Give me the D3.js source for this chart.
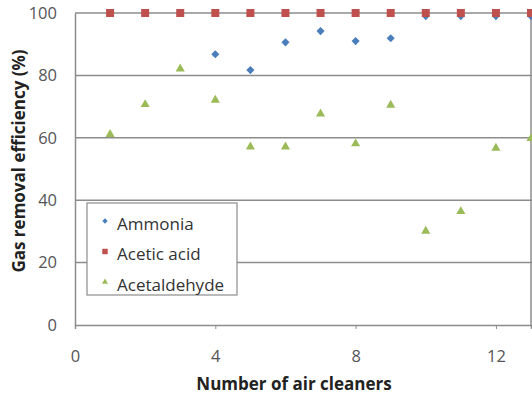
<!DOCTYPE html>
<html>
<head>
<meta charset="utf-8">
<script src="https://cdn.jsdelivr.net/npm/d3@7"></script>
<style>
  body { margin: 0; background: #fff; }
  text { font-family: "Open Sans", "Noto Sans", sans-serif; }
</style>
</head>
<body>
<div id="chart"></div>
<script>
const cleaners = [1, 2, 3, 4, 5, 6, 7, 8, 9, 10, 11, 12, 13];
const ammonia = [100, 100, 100, 86.8, 81.7, 90.6, 94.2, 91.0, 91.9, 99.0, 99.0, 99.0, 99.0];
const aceticAcid = [100, 100, 100, 100, 100, 100, 100, 100, 100, 100, 100, 100, 100];
const acetaldehyde = [61.1, 70.7, 82.1, 72.1, 57.1, 57.1, 67.7, 58.1, 70.5, 30.1, 36.4, 56.7, 59.8];
const seriesNames = ["Ammonia", "Acetic acid", "Acetaldehyde"];
const xTicks = [0, 4, 8, 12];
const yTicks = [0, 20, 40, 60, 80, 100];

const width = 532, height = 397;
const margin = { top: 13, right: 0, bottom: 72, left: 75 };

const svg = d3.select("#chart").append("svg")
  .attr("width", width)
  .attr("height", height);

const x = d3.scaleLinear().domain([0, 13]).range([margin.left, width - 1]);
const y = d3.scaleLinear().domain([0, 100]).range([height - margin.bottom, margin.top]);

const gridColor = "#8c8c8c";

// horizontal gridlines
svg.append("g")
  .selectAll("line")
  .data(yTicks.filter(d => d > 0))
  .join("line")
  .attr("x1", x(0)).attr("x2", width)
  .attr("y1", d => y(d)).attr("y2", d => y(d))
  .attr("stroke", gridColor).attr("stroke-width", 1.5);

// x axis
const xAxis = svg.append("g")
  .attr("transform", `translate(0,${y(0)})`)
  .call(d3.axisBottom(x).tickValues(xTicks).tickSize(4).tickPadding(21).tickFormat(d3.format("d")));
xAxis.select(".domain").attr("stroke", gridColor).attr("stroke-width", 1.5);
xAxis.selectAll(".tick line").attr("stroke", gridColor);
xAxis.selectAll(".tick text").attr("fill", "#555").attr("font-size", 16.5);

// y axis
const yAxis = svg.append("g")
  .attr("transform", `translate(${x(0)},0)`)
  .call(d3.axisLeft(y).tickValues(yTicks).tickSize(0).tickPadding(18));
yAxis.select(".domain").attr("stroke", gridColor).attr("stroke-width", 1.5);
yAxis.selectAll(".tick text").attr("fill", "#555").attr("font-size", 16.5);

// right frame
svg.append("line")
  .attr("x1", x(13)).attr("x2", x(13))
  .attr("y1", y(100)).attr("y2", y(0))
  .attr("stroke", gridColor).attr("stroke-width", 1.5);

// markers
const colors = ["#4a7ebb", "#c0504d", "#9bbb59"];
const diamond = d3.symbol().type(d3.symbolDiamond2).size(42);
const square = d3.symbol().type(d3.symbolSquare).size(64);
const triangle = d3.symbol().type(d3.symbolTriangle).size(36);
const shapes = [diamond, square, triangle];

function drawSeries(values, i) {
  svg.append("g")
    .selectAll("path")
    .data(values)
    .join("path")
    .attr("d", shapes[i])
    .attr("transform", (d, j) => `translate(${x(cleaners[j])},${y(d)})`)
    .attr("fill", colors[i]);
}
drawSeries(ammonia, 0);
drawSeries(aceticAcid, 1);
drawSeries(acetaldehyde, 2);

// legend
const legend = svg.append("g").attr("transform", "translate(87,203)");
legend.append("rect")
  .attr("width", 150).attr("height", 92)
  .attr("fill", "#fff").attr("stroke", "#8c8c8c").attr("stroke-width", 1.2);
const smallShapes = [
  d3.symbol().type(d3.symbolDiamond2).size(18),
  d3.symbol().type(d3.symbolSquare).size(30),
  d3.symbol().type(d3.symbolTriangle).size(16)
];
seriesNames.forEach((name, i) => {
  const row = legend.append("g").attr("transform", `translate(0,${21 + i * 30.5})`);
  row.append("path").attr("d", smallShapes[i])
    .attr("transform", "translate(18,-3)").attr("fill", colors[i]);
  row.append("text").attr("x", 30).attr("y", 0).attr("dy", "0.35em")
    .attr("font-size", 17).attr("fill", "#333").text(name);
});

// axis titles
svg.append("text")
  .attr("x", 294).attr("y", 390)
  .attr("text-anchor", "middle")
  .attr("font-size", 17).attr("font-weight", "bold").attr("fill", "#222")
  .text("Number of air cleaners");

svg.append("text")
  .attr("transform", "translate(25,161) rotate(-90)")
  .attr("text-anchor", "middle")
  .attr("font-size", 17).attr("font-weight", "bold").attr("fill", "#222")
  .text("Gas removal efficiency (%)");
</script>
</body>
</html>
